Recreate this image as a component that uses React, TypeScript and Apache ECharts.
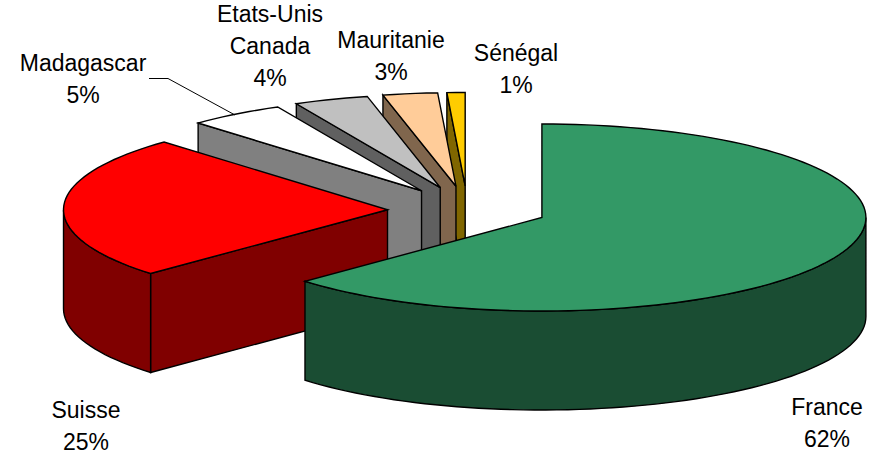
import React, { useEffect, useRef } from "react";
import * as echarts from "echarts";

const categories = ["France", "Suisse", "Madagascar", "Etats-Unis\nCanada", "Mauritanie", "Sénégal"];
const shares = [62, 25, 5, 4, 3, 1];
const topColors = ["#339966", "#FF0000", "#FFFFFF", "#C0C0C0", "#FFCC99", "#FFCC00"];
const sideColors = ["#1A4D33", "#800000", "#808080", "#606060", "#80664D", "#806600"];
const labelAnchors = [
  [827, 423],
  [86, 426],
  [83, 79],
  [270, 46],
  [391, 56],
  [516, 69],
];

const CX = 467.5;
const CY = 209;
const RX = 324;
const RY = 93.5;
const DEPTH = 99;
const EXPLODE = 0.247;
const REAR_SHRINK = 0.08;
const RAD = Math.PI / 180;

// The perspective of the 3D view pushes angles round by a few degrees,
// fading out towards 12 o'clock on either side.
const viewAngle = (deg: number) =>
  deg + 3.8 * Math.tanh((360 - deg) / 38) * Math.tanh(deg / 60);

const cumulative = shares.reduce<number[]>((acc, v) => [...acc, acc[acc.length - 1] + v], [0]);
const total = cumulative[cumulative.length - 1];

function rim(ax: number, ay: number, deg: number): [number, number] {
  const t = deg * RAD;
  return [ax + RX * Math.sin(t), ay - RY * Math.cos(t)];
}
const down = (p: number[]): [number, number] => [p[0], p[1] + DEPTH];

function arc(ax: number, ay: number, from: number, to: number): [number, number][] {
  const n = Math.max(2, Math.ceil((to - from) / 2));
  const pts: [number, number][] = [];
  for (let i = 0; i <= n; i++) pts.push(rim(ax, ay, from + ((to - from) * i) / n));
  return pts;
}

function renderSlice(params: any) {
  const i = params.dataIndex;
  const start = viewAngle((cumulative[i] / total) * 360);
  const end = viewAngle((cumulative[i + 1] / total) * 360);
  const mid = ((cumulative[i] + cumulative[i + 1]) / 2 / total) * 360;
  const rear = 1 - REAR_SHRINK * Math.max(0, Math.cos(mid * RAD));
  const [ax, ay] = [
    CX + EXPLODE * RX * Math.sin(mid * RAD) * rear,
    CY - EXPLODE * RY * Math.cos(mid * RAD),
  ];
  const apex: [number, number] = [ax, ay];
  const line = { stroke: "#000", lineWidth: 1.4, lineJoin: "miter" };
  const children: any[] = [];
  const face = (pts: number[][], fill: string) =>
    children.push({ type: "polygon", shape: { points: pts }, style: { fill, ...line } });

  if (Math.sin(start * RAD) < -1e-6) {
    const p = rim(ax, ay, start);
    face([p, apex, down(apex), down(p)], sideColors[i]);
  }
  if (Math.sin(end * RAD) > 1e-6) {
    const p = rim(ax, ay, end);
    face([apex, p, down(p), down(apex)], sideColors[i]);
  }
  const from = Math.max(start, 90);
  const to = Math.min(end, 270);
  if (to > from) {
    const a = arc(ax, ay, from, to);
    face([...a, ...a.slice().reverse().map(down)], sideColors[i]);
  }
  face([apex, ...arc(ax, ay, start, end)], topColors[i]);

  return { type: "group", children };
}

function renderLabel(params: any) {
  const i = params.dataIndex;
  return {
    type: "text",
    x: labelAnchors[i][0],
    y: labelAnchors[i][1],
    style: {
      text: `${categories[i]}\n${shares[i]}%`,
      fontFamily: "Liberation Sans",
      fontSize: 23,
      lineHeight: 32,
      fill: "#000",
      align: "center",
      verticalAlign: "middle",
    },
  };
}

export default function App() {
  const ref = useRef<HTMLDivElement>(null);
  useEffect(() => {
    document.body.style.margin = "0";
    const chart = echarts.init(ref.current!, undefined, { renderer: "svg" });
    chart.setOption({
      animation: false,
      backgroundColor: "#fff",
      tooltip: { show: false },
      series: [
        {
          type: "custom",
          coordinateSystem: "none",
          silent: true,
          z: 2,
          renderItem: (params: any) => {
            // Back-to-front: paint the later (rear) slices first.
            return renderSlice({ dataIndex: shares.length - 1 - params.dataIndex });
          },
          data: shares.map((v) => [v]),
        },
        {
          type: "custom",
          coordinateSystem: "none",
          silent: true,
          z: 3,
          renderItem: renderLabel,
          data: shares.map((v) => [v]),
        },
      ],
      graphic: [
        {
          type: "polyline",
          z: 10,
          silent: true,
          shape: { points: [[149, 78.5], [168, 78.5], [235, 115]] },
          style: { stroke: "#000", lineWidth: 1, fill: "none" },
        },
      ],
    });
    return () => chart.dispose();
  }, []);
  return (
    <div
      ref={ref}
      style={{ position: "absolute", left: 0, top: 0, width: 876, height: 454 }}
    />
  );
}
